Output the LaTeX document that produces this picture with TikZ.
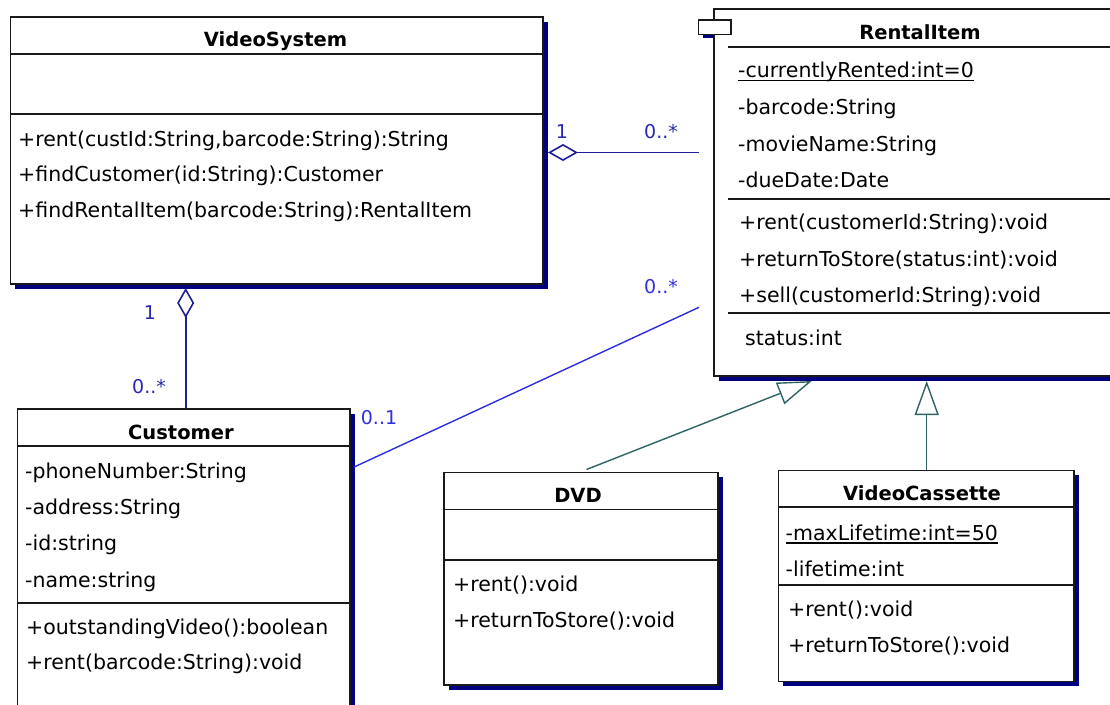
\documentclass[tikz,border=0pt]{standalone}
\usepackage{fontspec}
\setmainfont{DejaVu Sans}
\usetikzlibrary{calc,shadows,arrows.meta}
\definecolor{shadowc}{HTML}{000080}
\definecolor{aggc}{HTML}{1E1E96}
\definecolor{assocc}{HTML}{2E2EE0}
\definecolor{genc}{HTML}{2F6464}
\definecolor{mlabc}{HTML}{2828B4}
\definecolor{alabc}{HTML}{3030E0}
\definecolor{linec}{HTML}{1A1A1A}
\tikzset{
  cbox/.style={draw=linec, fill=white, line width=1.7pt, inner sep=0pt, anchor=north west,
    drop shadow={shadow xshift=5pt, shadow yshift=-5pt, fill=shadowc, opacity=1}},
  sepline/.style={line width=1.7pt, linec},
  ctitle/.style={font=\fontsize{19.5}{23}\bfseries\selectfont, anchor=base, inner sep=0pt},
  member/.style={font=\fontsize{20.5}{24}\selectfont, anchor=base west, inner sep=0pt},
  multlab/.style={font=\fontsize{19}{22}\selectfont, inner sep=0pt},
  aggline/.style={aggc, line width=1.6pt},
  assocline/.style={assocc, line width=1.4pt},
  genline/.style={genc, line width=1.4pt},
  uline/.style={line width=1.2pt, black}
}
\begin{document}
\begin{tikzpicture}[x=1pt,y=-1pt]
\useasboundingbox (0,0) rectangle (1110,704);
\fill[white] (0,0) rectangle (1110,704);
\clip (0,0) rectangle (1110,704);

% ---------- VideoSystem ----------
\node[cbox, minimum width=532.5pt, minimum height=266.7pt] (vs) at (9.5,16.3) {};
\draw[sepline] (9.5,54.3) -- (542,54.3) (9.5,114) -- (542,114);
\node[ctitle] (vsT) at (275.5,46.5) {VideoSystem};
\node[member] (vsM1) at (18,146) {+rent(custId:String,barcode:String):String};
\node[member] (vsM2) at (18,181.5) {+findCustomer(id:String):Customer};
\node[member] (vsM3) at (18,217.5) {+findRentalItem(barcode:String):RentalItem};

% ---------- RentalItem ----------
\fill[shadowc] (702.5,23) rectangle (735,37.5);
\node[cbox, minimum width=417pt, minimum height=367pt] (ri) at (713,8) {};
\node[draw=linec, fill=white, line width=1.7pt, inner sep=0pt, anchor=north west,
      minimum width=32.5pt, minimum height=14.5pt] (riIcon) at (697.5,19) {};
\draw[sepline] (728,46.7) -- (1130,46.7) (728,199) -- (1130,199) (728,313) -- (1130,313);
\node[ctitle] (riT) at (920,39) {RentalItem};
\node[member] (riA1) at (738,77.5) {-currentlyRented:int=0};
\draw[uline] ([yshift=-3pt]riA1.base west) -- ([yshift=-3pt]riA1.base east);
\node[member] (riA2) at (738,114) {-barcode:String};
\node[member] (riA3) at (738,151) {-movieName:String};
\node[member] (riA4) at (738,187.5) {-dueDate:Date};
\node[member] (riM1) at (739,229) {+rent(customerId:String):void};
\node[member] (riM2) at (739,266) {+returnToStore(status:int):void};
\node[member] (riM3) at (739,302.5) {+sell(customerId:String):void};
\node[member] (riS) at (745,345) {status:int};

% ---------- Customer ----------
\node[cbox, minimum width=332.5pt, minimum height=320pt] (cu) at (16.5,408) {};
\draw[sepline] (16.5,446) -- (349,446) (16.5,603) -- (349,603);
\node[ctitle] (cuT) at (181,439) {Customer};
\node[member] (cuA1) at (25,478) {-phoneNumber:String};
\node[member] (cuA2) at (25,514) {-address:String};
\node[member] (cuA3) at (25,550.5) {-id:string};
\node[member] (cuA4) at (25,587.5) {-name:string};
\node[member] (cuM1) at (26,634) {+outstandingVideo():boolean};
\node[member] (cuM2) at (26,669) {+rent(barcode:String):void};

% ---------- DVD ----------
\node[cbox, minimum width=274pt, minimum height=212.5pt] (dvd) at (443,471.5) {};
\draw[sepline] (443,509.5) -- (717,509.5) (443,560) -- (717,560);
\node[ctitle] (dvdT) at (578,502) {DVD};
\node[member] (dvdM1) at (453,591) {+rent():void};
\node[member] (dvdM2) at (453,627.5) {+returnToStore():void};

% ---------- VideoCassette ----------
\node[cbox, minimum width=295.5pt, minimum height=211pt] (vc) at (777.5,469.5) {};
\draw[sepline] (777.5,507) -- (1073,507) (777.5,585) -- (1073,585);
\node[ctitle] (vcT) at (922,500.5) {VideoCassette};
\node[member] (vcA1) at (785.5,540) {-maxLifetime:int=50};
\draw[uline] ([yshift=-3pt]vcA1.base west) -- ([yshift=-3pt]vcA1.base east);
\node[member] (vcA2) at (785.5,576.5) {-lifetime:int};
\node[member] (vcM1) at (788,616) {+rent():void};
\node[member] (vcM2) at (788,652.5) {+returnToStore():void};

% ---------- connector end points ----------
\coordinate (vsR) at (548,152.5);
\coordinate (riL) at (699,152.5);
\coordinate (vsB) at (185.7,288);
\coordinate (cuTop) at (185.7,408);
\coordinate (cuR) at (353.5,467.3);
\coordinate (riL2) at (699,307.3);
\coordinate (dvdTop) at (586.5,469.5);
\coordinate (riB1) at (811.7,381);
\coordinate (vcTop) at (926.7,469.5);
\coordinate (riB2) at (926.7,381);

% ---------- connectors ----------
\draw[aggline, {Diamond[open,length=30pt,width=17pt]}-] (vsR) -- (riL);
\draw[aggline, {Diamond[open,length=30pt,width=17pt]}-] (vsB) -- (cuTop);
\draw[assocline] (cuR) -- (riL2);
\draw[genline, -{Triangle[open,length=34pt,width=23pt]}] (dvdTop) -- (riB1);
\draw[genline, -{Triangle[open,length=34pt,width=24pt]}] (vcTop) -- (riB2);

% ---------- multiplicities ----------
\node[multlab, text=mlabc] (m1) at (562,132) {1};
\node[multlab, text=mlabc] (m2) at (661,132) {0..*};
\node[multlab, text=mlabc] (m3) at (150,313) {1};
\node[multlab, text=mlabc] (m4) at (149,387) {0..*};
\node[multlab, text=alabc] (m5) at (379,418) {0..1};
\node[multlab, text=alabc] (m6) at (661,287) {0..*};
\end{tikzpicture}
\end{document}
